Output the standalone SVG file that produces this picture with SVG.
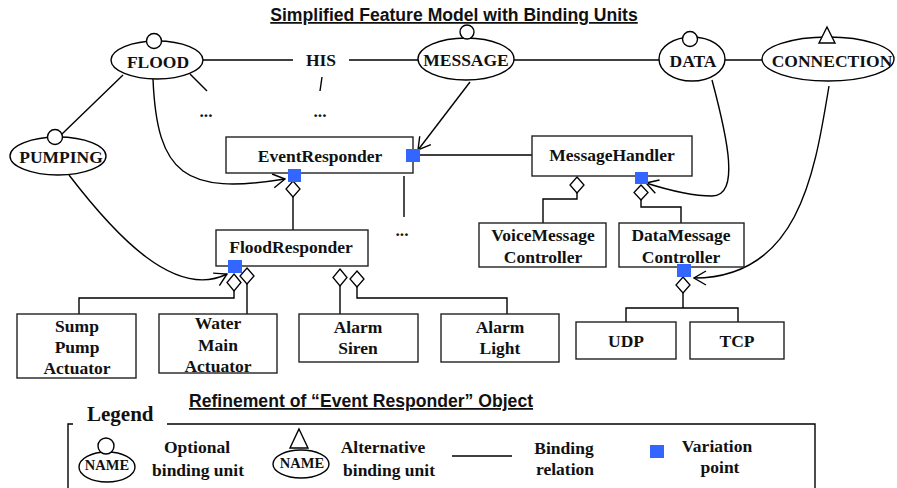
<svg xmlns="http://www.w3.org/2000/svg" width="897" height="488" viewBox="0 0 897 488">
  <style>
    .ln { fill: none; stroke: #000; stroke-width: 1.4; }
    .box { fill: #fff; stroke: #222; stroke-width: 1.4; }
    .bu { fill: #fff; stroke: #000; stroke-width: 1.4; }
    .dm { fill: #fff; stroke: #000; stroke-width: 1.3; }
    .vp { fill: #3366ff; }
    .t { font-family: "Liberation Serif", "Times New Roman", serif; font-weight: bold; font-size: 17.5px; fill: #111; text-anchor: middle; }
    .lg { font-family: "Liberation Serif", "Times New Roman", serif; font-weight: bold; font-size: 21px; fill: #111; }
    .nm { font-family: "Liberation Serif", "Times New Roman", serif; font-weight: bold; font-size: 14.5px; fill: #111; text-anchor: middle; }
    .hd { font-family: "Liberation Sans", Arial, sans-serif; font-weight: bold; font-size: 17.6px; fill: #111; text-anchor: middle; text-decoration: underline; }
  </style>
  <defs>
    <marker id="open" viewBox="0 0 14 16" refX="13" refY="8" markerWidth="14" markerHeight="16" markerUnits="userSpaceOnUse" orient="auto">
      <path d="M1,1 L13,8 L1,15" fill="none" stroke="#000" stroke-width="1.4"/>
    </marker>
  </defs>

  <rect width="897" height="488" fill="#fff"/>

  <text class="hd" x="454" y="21">Simplified Feature Model with Binding Units</text>

  <!-- connectors -->
  <g id="connectors">
    <!-- binding relations between units -->
    <line class="ln" x1="203" y1="60" x2="293" y2="60"/>
    <line class="ln" x1="349" y1="60" x2="418" y2="60"/>
    <line class="ln" x1="514" y1="60" x2="659" y2="60"/>
    <line class="ln" x1="725" y1="60" x2="762" y2="60"/>
    <line class="ln" x1="190" y1="74" x2="207" y2="91"/>
    <line class="ln" x1="322" y1="77" x2="320" y2="91"/>
    <line class="ln" x1="123" y1="75" x2="62" y2="134"/>
    <!-- unit-to-variation-point bindings -->
    <path class="ln" d="M153,79 C157,175 185,195 285,179" marker-end="url(#open)"/>
    <path class="ln" d="M69,175 C115,235 175,300 227,274" marker-end="url(#open)"/>
    <line class="ln" x1="470" y1="82" x2="418" y2="150" marker-end="url(#open)"/>
    <path class="ln" d="M712,80 C728,140 740,196 712,196 C692,196 668,190 646,183" marker-end="url(#open)"/>
    <path class="ln" d="M829,86 C815,170 800,278 694,278" marker-end="url(#open)"/>
    <!-- object relations -->
    <line class="ln" x1="420" y1="155" x2="532" y2="155"/>
    <line class="ln" x1="404" y1="176" x2="404" y2="217"/>
    <line class="ln" x1="293" y1="197" x2="293" y2="230"/>
    <polyline class="ln" points="234,291 234,298 79,298 79,314"/>
    <line class="ln" x1="247" y1="284" x2="247" y2="314"/>
    <line class="ln" x1="340" y1="286" x2="340" y2="314"/>
    <polyline class="ln" points="357,287 357,298 507,298 507,314"/>
    <polyline class="ln" points="577,193 577,199 543,199 543,223"/>
    <polyline class="ln" points="641,200 641,207 681,207 681,223"/>
    <polyline class="ln" points="683,293 683,308"/>
    <polyline class="ln" points="626,322 626,308 738,308 738,322"/>
    <!-- aggregation diamonds -->
    <polygon class="dm" points="293,181 300,189 293,197 286,189"/>
    <polygon class="dm" points="234,274 241,282.5 234,291 227,282.5"/>
    <polygon class="dm" points="247,268 254,276 247,284 240,276"/>
    <polygon class="dm" points="340,269 347,277.5 340,286 333,277.5"/>
    <polygon class="dm" points="357,271 364,279 357,287 350,279"/>
    <polygon class="dm" points="577,177 584,185 577,193 570,185"/>
    <polygon class="dm" points="641,185 648,192.5 641,200 634,192.5"/>
    <polygon class="dm" points="683,277 690,285 683,293 676,285"/>
  </g>

  <text class="t" x="206" y="117">...</text>
  <text class="t" x="320" y="117">...</text>
  <text class="t" x="402" y="236">...</text>

  <!-- binding units -->
  <g id="flood">
    <ellipse class="bu" cx="157" cy="60" rx="46" ry="19"/>
    <circle class="bu" cx="154" cy="41" r="7.5"/>
    <text class="t" x="158" y="68">FLOOD</text>
  </g>
  <g id="his">
    <text class="t" x="321" y="66">HIS</text>
  </g>
  <g id="message">
    <ellipse class="bu" cx="466" cy="59" rx="48" ry="21"/>
    <circle class="bu" cx="467" cy="32" r="7"/>
    <text class="t" x="466" y="66">MESSAGE</text>
  </g>
  <g id="data">
    <ellipse class="bu" cx="692" cy="59" rx="33" ry="22"/>
    <circle class="bu" cx="690" cy="39" r="7.5"/>
    <text class="t" x="693" y="67">DATA</text>
  </g>
  <g id="connection">
    <ellipse class="bu" cx="828" cy="59" rx="66" ry="22"/>
    <polygon class="bu" points="827,27 835,43 819,43"/>
    <text class="t" x="832" y="67">CONNECTION</text>
  </g>
  <g id="pumping">
    <ellipse class="bu" cx="58" cy="156" rx="48" ry="19"/>
    <circle class="bu" cx="55" cy="137" r="7.5"/>
    <text class="t" x="61" y="163">PUMPING</text>
  </g>

  <!-- objects -->
  <g id="event-responder">
    <rect class="box" x="226" y="137" width="187" height="36"/>
    <text class="t" x="320" y="162">EventResponder</text>
    <rect class="vp" x="406" y="149" width="14" height="13"/>
    <rect class="vp" x="288" y="169" width="13" height="13"/>
  </g>
  <g id="message-handler">
    <rect class="box" x="532" y="136" width="160" height="40"/>
    <text class="t" x="612" y="161">MessageHandler</text>
    <rect class="vp" x="635" y="172" width="13" height="12"/>
  </g>
  <g id="flood-responder">
    <rect class="box" x="216" y="230" width="152" height="36"/>
    <text class="t" x="291" y="253">FloodResponder</text>
    <rect class="vp" x="228" y="260" width="14" height="13"/>
  </g>
  <g id="voice-message-controller">
    <rect class="box" x="479" y="223" width="127" height="44"/>
    <text class="t" x="543" y="241">VoiceMessage</text>
    <text class="t" x="543" y="263">Controller</text>
  </g>
  <g id="data-message-controller">
    <rect class="box" x="619" y="223" width="125" height="44"/>
    <text class="t" x="681" y="241">DataMessage</text>
    <text class="t" x="681" y="263">Controller</text>
    <rect class="vp" x="677" y="264" width="14" height="13"/>
  </g>
  <g id="sump-pump-actuator">
    <rect class="box" x="17" y="314" width="119" height="64"/>
    <text class="t" x="77" y="332">Sump</text>
    <text class="t" x="77" y="353">Pump</text>
    <text class="t" x="77" y="374">Actuator</text>
  </g>
  <g id="water-main-actuator">
    <rect class="box" x="159" y="314" width="118" height="59"/>
    <text class="t" x="218" y="329">Water</text>
    <text class="t" x="218" y="351">Main</text>
    <text class="t" x="218" y="372">Actuator</text>
  </g>
  <g id="alarm-siren">
    <rect class="box" x="299" y="314" width="119" height="48"/>
    <text class="t" x="358" y="333">Alarm</text>
    <text class="t" x="358" y="354">Siren</text>
  </g>
  <g id="alarm-light">
    <rect class="box" x="441" y="314" width="118" height="48"/>
    <text class="t" x="500" y="333">Alarm</text>
    <text class="t" x="500" y="354">Light</text>
  </g>
  <g id="udp">
    <rect class="box" x="576" y="322" width="100" height="37"/>
    <text class="t" x="626" y="347">UDP</text>
  </g>
  <g id="tcp">
    <rect class="box" x="690" y="322" width="94" height="37"/>
    <text class="t" x="737" y="347">TCP</text>
  </g>

  <text class="hd" x="361" y="407">Refinement of “Event Responder” Object</text>

  <!-- legend -->
  <g id="legend">
    <text class="lg" x="87" y="421">Legend</text>
    <polyline class="ln" points="73,424 68,424 68,490"/>
    <polyline class="ln" points="167,424 815,424 815,490"/>
    <ellipse class="bu" cx="107" cy="467" rx="28" ry="15"/>
    <circle class="bu" cx="106" cy="446" r="8"/>
    <text class="nm" x="107" y="470">NAME</text>
    <text class="t" x="197" y="453">Optional</text>
    <text class="t" x="198" y="476">binding unit</text>
    <ellipse class="bu" cx="301" cy="464" rx="28" ry="14"/>
    <polygon class="bu" points="299,429 308,448 290,448"/>
    <text class="nm" x="302" y="468">NAME</text>
    <text class="t" x="383" y="453">Alternative</text>
    <text class="t" x="389" y="476">binding unit</text>
    <line class="ln" x1="452" y1="456" x2="512" y2="456"/>
    <text class="t" x="564" y="454">Binding</text>
    <text class="t" x="565" y="475">relation</text>
    <rect class="vp" x="650" y="445" width="14" height="13"/>
    <text class="t" x="717" y="452">Variation</text>
    <text class="t" x="720" y="473">point</text>
  </g>
</svg>
